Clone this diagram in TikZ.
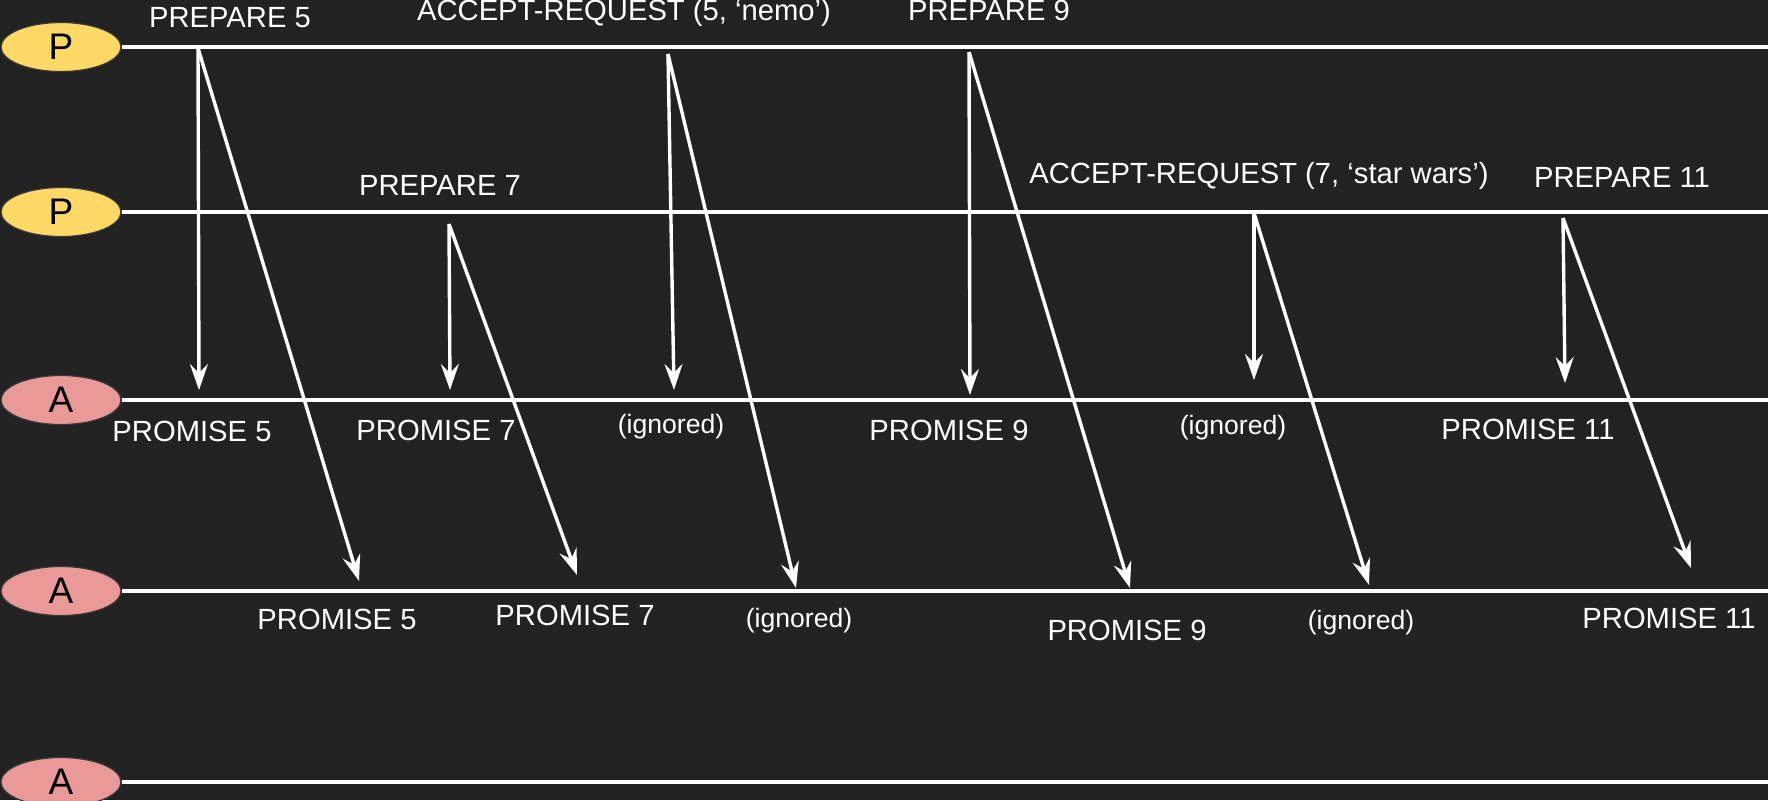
\documentclass[tikz,border=0pt]{standalone}
\usepackage{fontspec}
\setmainfont{Liberation Sans}
\usetikzlibrary{arrows.meta,shapes.geometric}
\definecolor{bg}{HTML}{222222}
\definecolor{pyel}{HTML}{FFD966}
\definecolor{apink}{HTML}{EA9999}
\definecolor{edgegray}{HTML}{3A3A3A}
\begin{document}
\begin{tikzpicture}[x=0.5pt,y=-0.5pt,
  role/.style={ellipse, draw=edgegray, line width=0.6pt, minimum width=60pt, minimum height=24.5pt, inner sep=0pt, font=\fontsize{18.5}{20}\selectfont, text=black},
  proposer/.style={role, fill=pyel},
  acceptor/.style={role, fill=apink},
  life/.style={draw=white, line width=2pt},
  msg/.style={draw=white, line width=1.7pt, -{Stealth[length=13pt,width=9pt,inset=4.5pt]}},
  lbl/.style={text=white, inner sep=0pt, anchor=base, font=\fontsize{14.6}{17}\selectfont},
  ign/.style={lbl, font=\fontsize{13.3}{16}\selectfont}]
\useasboundingbox (0,0) rectangle (1768,800);
\clip (0,0) rectangle (1768,800);
\fill[bg] (0,0) rectangle (1768,800);

% lifelines
\node[proposer] (p1) at (61,47) {P};
\node[proposer] (p2) at (61,212) {P};
\node[acceptor] (a1) at (61,400) {A};
\node[acceptor] (a2) at (61,591) {A};
\node[acceptor] (a3) at (61,782) {A};
\coordinate (p1e) at (1768,47);
\coordinate (p2e) at (1768,212);
\coordinate (a1e) at (1768,400);
\coordinate (a2e) at (1768,591);
\coordinate (a3e) at (1768,782);
\draw[life] (p1.east) -- (p1e);
\draw[life] (p2.east) -- (p2e);
\draw[life] (a1.east) -- (a1e);
\draw[life] (a2.east) -- (a2e);
\draw[life] (a3.east) -- (a3e);

% message points
\coordinate (s1) at (198,48);  \coordinate (v1) at (199,390);  \coordinate (d1) at (359,581);
\coordinate (s2) at (449,224); \coordinate (v2) at (450,390);  \coordinate (d2) at (577,575);
\coordinate (s3) at (668,54);  \coordinate (v3) at (674,390);  \coordinate (d3) at (796,588);
\coordinate (s4) at (969,52);  \coordinate (v4) at (970,395);  \coordinate (d4) at (1130,588);
\coordinate (s5) at (1254,213);\coordinate (v5) at (1254,380); \coordinate (d5) at (1369,585);
\coordinate (s6) at (1563,218);\coordinate (v6) at (1565,383); \coordinate (d6) at (1691,568);

\foreach \i in {1,...,6} {
  \draw[msg] (s\i) -- (v\i);
  \draw[msg] (s\i) -- (d\i);
}

% labels above
\node[lbl] (l1) at (230,27) {PREPARE 5};
\node[lbl] (l2) at (624,20) {ACCEPT-REQUEST (5, ‘nemo’)};
\node[lbl] (l3) at (989,20) {PREPARE 9};
\node[lbl] (l4) at (440,195) {PREPARE 7};
\node[lbl] (l5) at (1259,183) {ACCEPT-REQUEST (7, ‘star wars’)};
\node[lbl] (l6) at (1622,187) {PREPARE 11};

% acceptor 1 replies
\node[lbl] (r11) at (192,441) {PROMISE 5};
\node[lbl] (r12) at (436,440) {PROMISE 7};
\node[ign] (r13) at (671,433) {(ignored)};
\node[lbl] (r14) at (949,440) {PROMISE 9};
\node[ign] (r15) at (1233,434) {(ignored)};
\node[lbl] (r16) at (1528,439) {PROMISE 11};

% acceptor 2 replies
\node[lbl] (r21) at (337,629) {PROMISE 5};
\node[lbl] (r22) at (575,625) {PROMISE 7};
\node[ign] (r23) at (799,627) {(ignored)};
\node[lbl] (r24) at (1127,640) {PROMISE 9};
\node[ign] (r25) at (1361,629) {(ignored)};
\node[lbl] (r26) at (1669,628) {PROMISE 11};
\end{tikzpicture}
\end{document}
